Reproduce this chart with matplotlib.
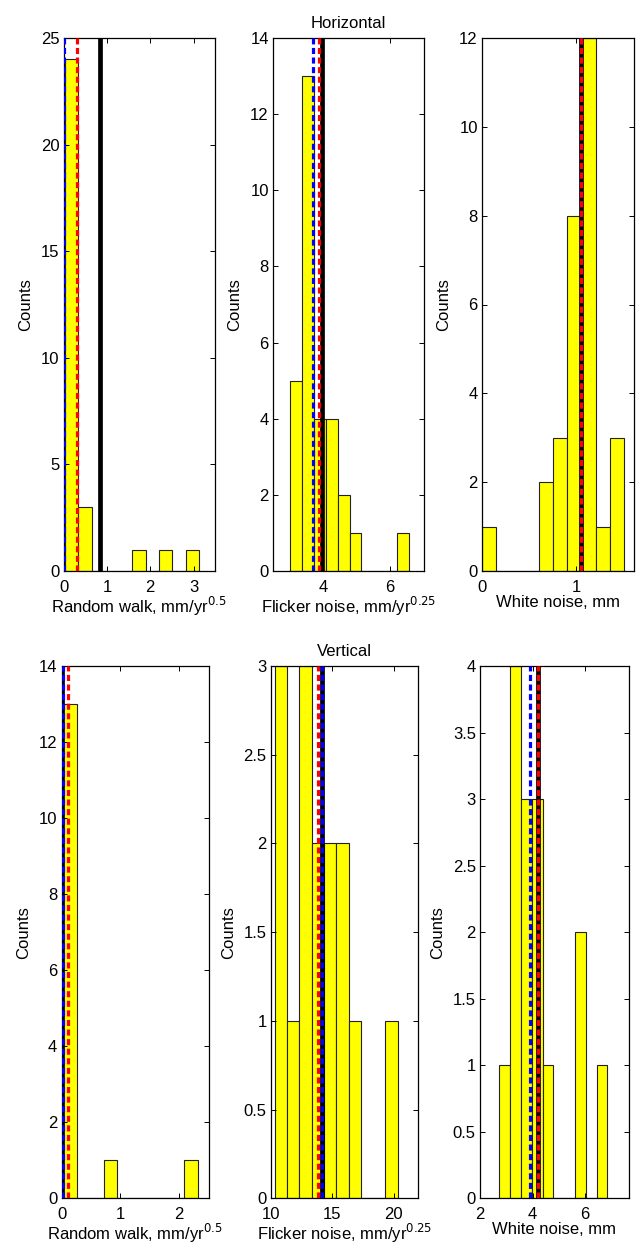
import matplotlib
matplotlib.use("Agg")
import matplotlib.pyplot as plt
from matplotlib.ticker import FuncFormatter

plt.rcParams['font.family'] = ['Liberation Sans', 'DejaVu Sans']
plt.rcParams['font.size'] = 12

# ---------------- data ----------------
# Horizontal
h_rw_edges = [0.03, 0.34, 0.65, 0.96, 1.27, 1.58, 1.89, 2.20, 2.51, 2.82, 3.13]
h_rw_counts = [24, 3, 0, 0, 0, 1, 0, 1, 0, 1]
h_rw_lines = [0.83, 0.01, 0.30]          # black, blue, red

h_fn_edges = [3.02, 3.375, 3.73, 4.085, 4.44, 4.795, 5.15, 5.505, 5.86, 6.215, 6.57]
h_fn_counts = [5, 13, 4, 4, 2, 1, 0, 0, 0, 1]
h_fn_lines = [3.97, 3.71, 3.88]

h_wn_edges = [0.0, 0.151, 0.301, 0.452, 0.602, 0.753, 0.904, 1.054, 1.205, 1.355, 1.506]
h_wn_counts = [1, 0, 0, 0, 2, 3, 8, 12, 1, 3]
h_wn_lines = [1.055, 1.05, 1.055]

# Vertical
v_rw_edges = [0.033, 0.261, 0.489, 0.717, 0.945, 1.173, 1.401, 1.629, 1.857, 2.085, 2.313]
v_rw_counts = [13, 0, 0, 1, 0, 0, 0, 0, 0, 1]
v_rw_lines = [0.01, 0.03, 0.115]

v_fn_edges = [10.35, 11.35, 12.34, 13.34, 14.34, 15.34, 16.33, 17.33, 18.33, 19.32, 20.32]
v_fn_counts = [3, 1, 3, 2, 2, 2, 1, 0, 0, 1]
v_fn_lines = [14.15, 14.15, 13.87]

v_wn_edges = [2.74, 3.151, 3.562, 3.973, 4.384, 4.795, 5.206, 5.617, 6.028, 6.439, 6.85]
v_wn_counts = [1, 4, 3, 3, 1, 0, 0, 2, 0, 1]
v_wn_lines = [4.22, 3.905, 4.22]

xlabels = ["Random walk, mm/yr$^{0.5}$", "Flicker noise, mm/yr$^{0.25}$", "White noise, mm"]
row_titles = ["Horizontal", "Vertical"]

# ---------------- layout ----------------
W, H = 638, 1245
fig = plt.figure(figsize=(W / 100, H / 100), dpi=100)

T1, B1 = 38, 571
T2, B2 = 666, 1198.3
panels = [
    # edges, counts, lines, xlim, ylim, xticks, yticks, (x0,x1,y0,y1) px
    (h_rw_edges, h_rw_counts, h_rw_lines, (0, 3.48), (0, 25), [0, 1, 2, 3], [0, 5, 10, 15, 20, 25], (63.5, 214.5, T1, B1)),
    (h_fn_edges, h_fn_counts, h_fn_lines, (2.52, 7.01), (0, 14), [4, 6], list(range(0, 15, 2)), (273, 424, T1, B1)),
    (h_wn_edges, h_wn_counts, h_wn_lines, (0, 1.607), (0, 12), [0, 1], list(range(0, 13, 2)), (482, 633.5, T1, B1)),
    (v_rw_edges, v_rw_counts, v_rw_lines, (0, 2.5), (0, 14), [0, 1, 2], list(range(0, 15, 2)), (61.5, 208.7, T2, B2)),
    (v_fn_edges, v_fn_counts, v_fn_lines, (10, 22), (0, 3), [10, 15, 20], [0, 0.5, 1, 1.5, 2, 2.5, 3], (270.7, 418.3, T2, B2)),
    (v_wn_edges, v_wn_counts, v_wn_lines, (2, 7.66), (0, 4), [2, 4, 6], [0, 0.5, 1, 1.5, 2, 2.5, 3, 3.5, 4], (480, 628.7, T2, B2)),
]

fmt = FuncFormatter(lambda v, p: ('%g' % v))

for i, (edges, counts, lines, xl, yl, xt, yt, (x0, x1, y0, y1)) in enumerate(panels):
    ax = fig.add_axes([x0 / W, 1 - y1 / H, (x1 - x0) / W, (y1 - y0) / H])
    lefts = edges[:-1]
    widths = [edges[k + 1] - edges[k] for k in range(len(lefts))]
    ax.bar(lefts, counts, width=widths, align='edge', color='#ffff00',
           edgecolor='#222222', linewidth=0.8, zorder=1)
    blk, blu, red = lines
    ax.axvline(blk, color='black', linewidth=3.4, zorder=3)
    ax.axvline(blu, color='#0000ff', linewidth=2.3, dashes=(1.9, 1.1), zorder=4)
    ax.axvline(red, color='#ff0000', linewidth=2.3, dashes=(1.9, 1.1), zorder=5)
    ax.set_xlim(*xl)
    ax.set_ylim(*yl)
    ax.set_xticks(xt)
    ax.set_yticks(yt)
    ax.xaxis.set_major_formatter(fmt)
    ax.yaxis.set_major_formatter(fmt)
    ax.tick_params(direction='in', top=True, right=True, length=3.8, width=0.7,
                   labelsize=12)
    ax.tick_params(axis='x', pad=6.5)
    ax.tick_params(axis='y', pad=3)
    for s in ax.spines.values():
        s.set_linewidth(0.9)
    ax.set_ylabel("Counts", fontsize=12, labelpad=5.5)
    ax.set_xlabel(xlabels[i % 3], fontsize=12, labelpad=0)
    if i % 3 == 1:
        ax.set_title(row_titles[i // 3], fontsize=12, pad=7.5)

fig.savefig("out.png", dpi=100)
